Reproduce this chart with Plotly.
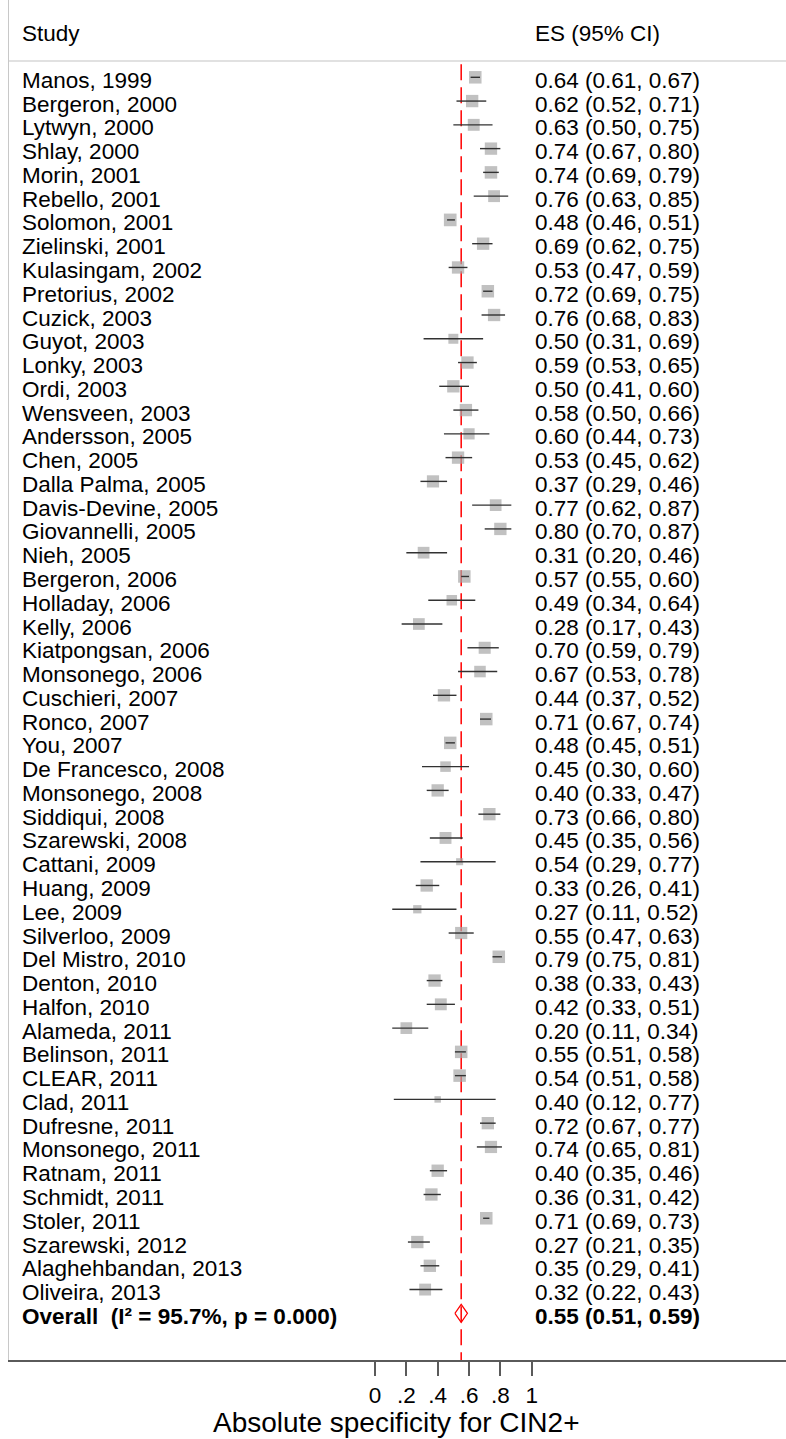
import math
import plotly.graph_objects as go

# ---------------- data ----------------
studies = ["Manos, 1999", "Bergeron, 2000", "Lytwyn, 2000", "Shlay, 2000", "Morin, 2001",
           "Rebello, 2001", "Solomon, 2001", "Zielinski, 2001", "Kulasingam, 2002", "Pretorius, 2002",
           "Cuzick, 2003", "Guyot, 2003", "Lonky, 2003", "Ordi, 2003", "Wensveen, 2003",
           "Andersson, 2005", "Chen, 2005", "Dalla Palma, 2005", "Davis-Devine, 2005", "Giovannelli, 2005",
           "Nieh, 2005", "Bergeron, 2006", "Holladay, 2006", "Kelly, 2006", "Kiatpongsan, 2006",
           "Monsonego, 2006", "Cuschieri, 2007", "Ronco, 2007", "You, 2007", "De Francesco, 2008",
           "Monsonego, 2008", "Siddiqui, 2008", "Szarewski, 2008", "Cattani, 2009", "Huang, 2009",
           "Lee, 2009", "Silverloo, 2009", "Del Mistro, 2010", "Denton, 2010", "Halfon, 2010",
           "Alameda, 2011", "Belinson, 2011", "CLEAR, 2011", "Clad, 2011", "Dufresne, 2011",
           "Monsonego, 2011", "Ratnam, 2011", "Schmidt, 2011", "Stoler, 2011", "Szarewski, 2012",
           "Alaghehbandan, 2013", "Oliveira, 2013"]

es = [0.64, 0.62, 0.63, 0.74, 0.74, 0.76, 0.48, 0.69, 0.53, 0.72,
      0.76, 0.50, 0.59, 0.50, 0.58, 0.60, 0.53, 0.37, 0.77, 0.80,
      0.31, 0.57, 0.49, 0.28, 0.70, 0.67, 0.44, 0.71, 0.48, 0.45,
      0.40, 0.73, 0.45, 0.54, 0.33, 0.27, 0.55, 0.79, 0.38, 0.42,
      0.20, 0.55, 0.54, 0.40, 0.72, 0.74, 0.40, 0.36, 0.71, 0.27,
      0.35, 0.32]
ci_low = [0.61, 0.52, 0.50, 0.67, 0.69, 0.63, 0.46, 0.62, 0.47, 0.69,
          0.68, 0.31, 0.53, 0.41, 0.50, 0.44, 0.45, 0.29, 0.62, 0.70,
          0.20, 0.55, 0.34, 0.17, 0.59, 0.53, 0.37, 0.67, 0.45, 0.30,
          0.33, 0.66, 0.35, 0.29, 0.26, 0.11, 0.47, 0.75, 0.33, 0.33,
          0.11, 0.51, 0.51, 0.12, 0.67, 0.65, 0.35, 0.31, 0.69, 0.21,
          0.29, 0.22]
ci_high = [0.67, 0.71, 0.75, 0.80, 0.79, 0.85, 0.51, 0.75, 0.59, 0.75,
           0.83, 0.69, 0.65, 0.60, 0.66, 0.73, 0.62, 0.46, 0.87, 0.87,
           0.46, 0.60, 0.64, 0.43, 0.79, 0.78, 0.52, 0.74, 0.51, 0.60,
           0.47, 0.80, 0.56, 0.77, 0.41, 0.52, 0.63, 0.81, 0.43, 0.51,
           0.34, 0.58, 0.58, 0.77, 0.77, 0.81, 0.46, 0.42, 0.73, 0.35,
           0.41, 0.43]
# estimated study weights (%)
weights = [2.05, 2.0, 1.85, 2.0, 2.05, 1.85, 2.1, 2.0, 2.0, 2.05,
           2.0, 1.3, 2.0, 2.0, 2.0, 1.65, 2.0, 1.95, 1.8, 2.0,
           1.8, 2.05, 1.45, 1.8, 1.9, 1.75, 2.0, 2.05, 2.05, 1.45,
           2.0, 2.0, 1.85, 0.65, 2.0, 0.9, 1.95, 2.05, 2.0, 1.85,
           1.8, 2.05, 2.05, 0.55, 2.0, 1.95, 2.0, 2.0, 2.05, 2.0,
           2.0, 1.85]

overall_label = "Overall\u00a0 (I² = 95.7%, p = 0.000)"
overall_es, overall_low, overall_high = 0.55, 0.51, 0.59

tick_vals = [0, 0.2, 0.4, 0.6, 0.8, 1]
tick_text = ["0", ".2", ".4", ".6", ".8", "1"]
header_study = "Study"
header_es = "ES (95% CI)"
x_title = "Absolute specificity for CIN2+"

assert len(studies) == len(es) == len(ci_low) == len(ci_high) == len(weights)

# ---------------- layout constants (pixels) ----------------
W, H = 786, 1439
ML, MR, MT, MB = 9, 0, 0, 79
PW, PH = W - ML - MR, H - MT - MB
X0_PX, PX_PER_UNIT = 375.0, 156.7          # pixel of value 0, pixels per unit
ROW0_PX, ROW_PX = 77.3, 23.77              # first row center, row spacing
x_range = [(ML - X0_PX) / PX_PER_UNIT, (ML + PW - X0_PX) / PX_PER_UNIT]
y_bottom = (MT + PH - ROW0_PX) / ROW_PX
y_top = (MT - ROW0_PX) / ROW_PX

FONT = "Liberation Sans, Arial, sans-serif"
FS = 22.5
BOX_COLOR = "rgb(166,166,166)"
CI_COLOR = "rgb(50,50,50)"
RED = "rgb(255,0,0)"

def paper_x(px):
    return (px - ML) / PW

n = len(studies)
rows = list(range(n))
overall_row = n

fig = go.Figure()

# boxes (area proportional to weight)
box_scale = 12.5 / math.sqrt(2.05)
fig.add_trace(go.Scatter(
    x=es, y=rows, mode="markers",
    marker=dict(symbol="square", size=[box_scale * math.sqrt(w) for w in weights],
                color=BOX_COLOR, line=dict(width=0)),
    hoverinfo="skip", showlegend=False))

# confidence intervals
cx, cy = [], []
for r, a, b in zip(rows, ci_low, ci_high):
    cx += [a, b, None]
    cy += [r, r, None]
fig.add_trace(go.Scatter(x=cx, y=cy, mode="lines",
                         line=dict(color=CI_COLOR, width=1.4),
                         hoverinfo="skip", showlegend=False))

# overall diamond
dh = 0.38
fig.add_trace(go.Scatter(
    x=[overall_low, overall_es, overall_high, overall_es, overall_low],
    y=[overall_row, overall_row - dh, overall_row, overall_row + dh, overall_row],
    mode="lines", line=dict(color=RED, width=1.2),
    hoverinfo="skip", showlegend=False))

shapes = [
    # header separator
    dict(type="line", xref="paper", yref="y", x0=0, x1=1, y0=-0.686, y1=-0.686,
         line=dict(color="rgb(215,215,215)", width=1.5), layer="below"),
    # overall effect reference line
    dict(type="line", xref="x", yref="y", x0=overall_es, x1=overall_es,
         y0=-0.55, y1=y_bottom,
         line=dict(color=RED, width=1.5, dash="16px,7px"), layer="below"),
]

annotations = []
TEXT_SHIFT = -3.0
NAME_PX, ES_PX = 20, 533
for r, name, e, a, b in zip(rows, studies, es, ci_low, ci_high):
    annotations.append(dict(x=paper_x(NAME_PX), y=r, xref="paper", yref="y", text=name,
                            xanchor="left", yanchor="middle", showarrow=False,
                            yshift=TEXT_SHIFT, font=dict(family=FONT, size=FS, color="black")))
    annotations.append(dict(x=paper_x(ES_PX), y=r, xref="paper", yref="y",
                            text=f"{e:.2f} ({a:.2f}, {b:.2f})",
                            xanchor="left", yanchor="middle", showarrow=False,
                            yshift=TEXT_SHIFT, font=dict(family=FONT, size=FS, color="black")))
annotations.append(dict(x=paper_x(NAME_PX), y=overall_row, xref="paper", yref="y",
                        text=f"<b>{overall_label}</b>", xanchor="left", yanchor="middle",
                        showarrow=False, yshift=TEXT_SHIFT,
                        font=dict(family=FONT, size=FS, color="black")))
annotations.append(dict(x=paper_x(ES_PX), y=overall_row, xref="paper", yref="y",
                        text=f"<b>{overall_es:.2f} ({overall_low:.2f}, {overall_high:.2f})</b>",
                        xanchor="left", yanchor="middle", showarrow=False, yshift=TEXT_SHIFT,
                        font=dict(family=FONT, size=FS, color="black")))
# headers
for px, t in [(NAME_PX, header_study), (ES_PX, header_es)]:
    annotations.append(dict(x=paper_x(px), y=-1.99, xref="paper", yref="y", text=t,
                            xanchor="left", yanchor="middle", showarrow=False, yshift=TEXT_SHIFT,
                            font=dict(family=FONT, size=FS, color="black")))
# axis title
annotations.append(dict(x=paper_x(396), y=(PH - (1422.2 - MT)) / PH, xref="paper", yref="paper",
                        text=x_title, xanchor="center", yanchor="middle", showarrow=False,
                        font=dict(family=FONT, size=28, color="black")))

fig.update_layout(
    width=W, height=H,
    margin=dict(l=ML, r=MR, t=MT, b=MB, pad=0),
    paper_bgcolor="white", plot_bgcolor="white",
    showlegend=False,
    xaxis=dict(range=x_range, showgrid=False, zeroline=False,
               showline=True, linecolor="rgb(90,90,90)", linewidth=2,
               ticks="outside", ticklen=14, tickwidth=2, tickcolor="rgb(90,90,90)",
               tickvals=tick_vals, ticktext=tick_text, ticklabelstandoff=0,
               tickfont=dict(family=FONT, size=FS, color="black"), fixedrange=True),
    yaxis=dict(range=[y_bottom, y_top], showgrid=False, zeroline=False,
               showticklabels=False, showline=True, linecolor="rgb(200,200,200)",
               linewidth=1, ticks="", fixedrange=True),
    shapes=shapes,
    annotations=annotations,
)

fig.write_html("out.html", config={"displayModeBar": False},
               post_script="document.body.style.margin='0px';document.body.style.padding='0px';"
                           "document.body.style.overflow='hidden';")
